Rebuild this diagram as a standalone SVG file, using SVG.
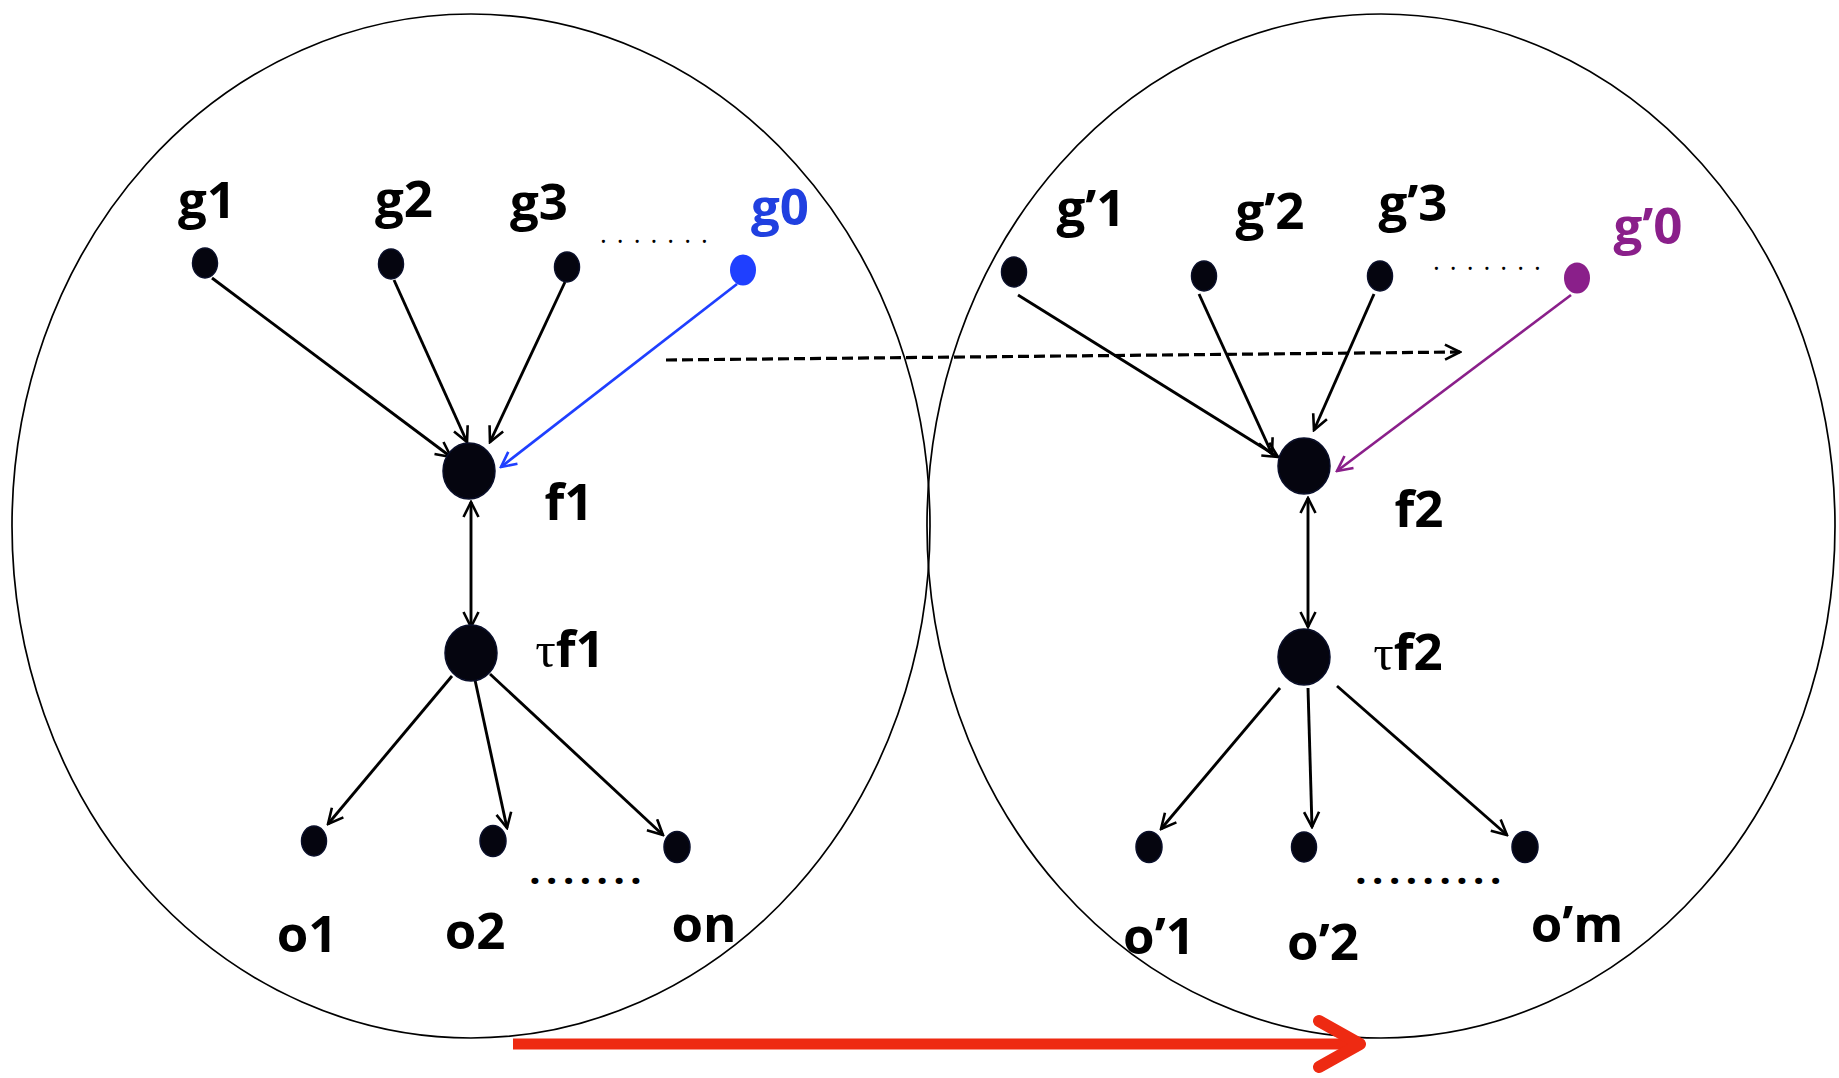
<svg xmlns="http://www.w3.org/2000/svg" width="1839" height="1078" viewBox="0 0 1839 1078">
<defs>
<style>
.lbl{font-family:"Open Sans","Noto Sans",sans-serif;font-weight:700;font-size:51px;fill:#000;text-anchor:middle}
.tau{font-family:"Liberation Serif",serif;font-weight:400}
.dots{font-family:"Open Sans",sans-serif;font-size:26px;fill:#000;letter-spacing:10px}
.bdots{font-family:"Open Sans",sans-serif;font-weight:800;font-size:34px;fill:#000;letter-spacing:7px}
.ell{fill:none;stroke:#000;stroke-width:1.7}
.dot{fill:#05050f;stroke:#0a0f2a;stroke-width:1.5}
.big{fill:#05050f;stroke:#0a0f2a;stroke-width:1.5}
.ar{fill:none;stroke:#000;stroke-width:2.9}
</style>
<marker id="ah" viewBox="0 0 18 18" refX="16" refY="9" markerWidth="18" markerHeight="18" markerUnits="userSpaceOnUse" orient="auto-start-reverse">
<path d="M1,1.5 L16,9 L1,16.5" fill="none" stroke="#000" stroke-width="2.6"/>
</marker>
<marker id="ahb" viewBox="0 0 18 18" refX="16" refY="9" markerWidth="18" markerHeight="18" markerUnits="userSpaceOnUse" orient="auto">
<path d="M1,1.5 L16,9 L1,16.5" fill="none" stroke="#1f3fff" stroke-width="2.6"/>
</marker>
<marker id="ahp" viewBox="0 0 18 18" refX="16" refY="9" markerWidth="18" markerHeight="18" markerUnits="userSpaceOnUse" orient="auto">
<path d="M1,1.5 L16,9 L1,16.5" fill="none" stroke="#8a1f8a" stroke-width="2.6"/>
</marker>
<marker id="ahr" viewBox="0 0 60 60" refX="52" refY="30" markerWidth="60" markerHeight="60" markerUnits="userSpaceOnUse" orient="auto">
<path d="M9,7 L50,30 L9,53" fill="none" stroke="#ee2a12" stroke-width="12" stroke-linecap="round" stroke-linejoin="round"/>
</marker>
</defs>
<rect width="1839" height="1078" fill="#fff"/>

<g id="container-left"><ellipse class="ell" cx="471" cy="526" rx="459" ry="512"/></g>
<g id="container-right"><ellipse class="ell" cx="1381" cy="526" rx="454" ry="512"/></g>

<g id="connectors">
<line class="ar" x1="212" y1="278" x2="451" y2="457" marker-end="url(#ah)"/>
<line class="ar" x1="394" y1="280" x2="467" y2="442" marker-end="url(#ah)"/>
<line class="ar" x1="565" y1="282" x2="490" y2="442" marker-end="url(#ah)"/>
<line x1="737" y1="284" x2="501" y2="467" fill="none" stroke="#1f3fff" stroke-width="2.8" marker-end="url(#ahb)"/>
<line class="ar" x1="471" y1="502" x2="471" y2="627" marker-start="url(#ah)" marker-end="url(#ah)"/>
<line class="ar" x1="452" y1="676" x2="328" y2="824" marker-end="url(#ah)"/>
<line class="ar" x1="475" y1="680" x2="507" y2="828" marker-end="url(#ah)"/>
<line class="ar" x1="490" y1="674" x2="663" y2="835" marker-end="url(#ah)"/>

<line class="ar" x1="1018" y1="295" x2="1278" y2="457" marker-end="url(#ah)"/>
<line class="ar" x1="1199" y1="294" x2="1272" y2="454" marker-end="url(#ah)"/>
<line class="ar" x1="1374" y1="294" x2="1314" y2="430" marker-end="url(#ah)"/>
<line x1="1571" y1="295" x2="1337" y2="471" fill="none" stroke="#8a1f8a" stroke-width="2.6" marker-end="url(#ahp)"/>
<line class="ar" x1="1308" y1="498" x2="1308" y2="627" marker-start="url(#ah)" marker-end="url(#ah)"/>
<line class="ar" x1="1280" y1="688" x2="1161" y2="829" marker-end="url(#ah)"/>
<line class="ar" x1="1308" y1="688" x2="1312" y2="827" marker-end="url(#ah)"/>
<line class="ar" x1="1337" y1="686" x2="1507" y2="835" marker-end="url(#ah)"/>

<line x1="666" y1="360" x2="1460" y2="352" fill="none" stroke="#000" stroke-width="3.2" stroke-dasharray="11 5" marker-end="url(#ah)"/>
<line x1="513" y1="1044" x2="1362" y2="1044" fill="none" stroke="#ee2a12" stroke-width="11" marker-end="url(#ahr)"/>
</g>

<g id="node-g1"><ellipse class="dot" cx="205" cy="263" rx="12.5" ry="15"/><text class="lbl" x="207" y="218">g1</text></g>
<g id="node-g2"><ellipse class="dot" cx="391" cy="264" rx="12.5" ry="15"/><text class="lbl" x="404" y="217">g2</text></g>
<g id="node-g3"><ellipse class="dot" cx="567" cy="267" rx="12.5" ry="15"/><text class="lbl" x="539" y="220">g3</text></g>
<g id="dots-g-left"><text class="dots" x="600" y="243">.......</text></g>
<g id="node-g0"><ellipse cx="743" cy="270" rx="13" ry="15.5" fill="#1f3fff"/><text class="lbl" x="780" y="225" style="fill:#2040e0">g0</text></g>
<g id="node-f1"><ellipse class="big" cx="469" cy="471" rx="26" ry="28"/><text class="lbl" x="569" y="520">f1</text></g>
<g id="node-tf1"><ellipse class="big" cx="471" cy="653" rx="26" ry="28"/><text class="lbl" x="570" y="667"><tspan class="tau">τ</tspan>f1</text></g>
<g id="node-o1"><ellipse class="dot" cx="314" cy="841" rx="12.5" ry="15"/><text class="lbl" x="307" y="952">o1</text></g>
<g id="node-o2"><ellipse class="dot" cx="493" cy="841" rx="13" ry="15.5"/><text class="lbl" x="475" y="949">o2</text></g>
<g id="node-on"><ellipse class="dot" cx="677" cy="847" rx="13" ry="15.5"/><text class="lbl" x="704" y="942">on</text></g>
<g id="dots-o-left"><text class="bdots" x="530" y="884">.......</text></g>

<g id="node-gp1"><ellipse class="dot" cx="1014" cy="272" rx="12.5" ry="15"/><text class="lbl" x="1091" y="226">g’1</text></g>
<g id="node-gp2"><ellipse class="dot" cx="1204" cy="276" rx="12.5" ry="15"/><text class="lbl" x="1270" y="229">g’2</text></g>
<g id="node-gp3"><ellipse class="dot" cx="1380" cy="276" rx="12.5" ry="15"/><text class="lbl" x="1413" y="221">g’3</text></g>
<g id="dots-g-right"><text class="dots" x="1433" y="270">.......</text></g>
<g id="node-gp0"><ellipse cx="1577" cy="278" rx="13" ry="15.5" fill="#8a1f8a"/><text class="lbl" x="1648" y="244" style="fill:#8a1f8a">g’0</text></g>
<g id="node-f2"><ellipse class="big" cx="1304" cy="466" rx="26" ry="28"/><text class="lbl" x="1419" y="527">f2</text></g>
<g id="node-tf2"><ellipse class="big" cx="1304" cy="657" rx="26" ry="28"/><text class="lbl" x="1408" y="670"><tspan class="tau">τ</tspan>f2</text></g>
<g id="node-op1"><ellipse class="dot" cx="1149" cy="847" rx="13" ry="15.5"/><text class="lbl" x="1159" y="954">o’1</text></g>
<g id="node-op2"><ellipse class="dot" cx="1304" cy="847" rx="12.5" ry="15"/><text class="lbl" x="1323" y="960">o’2</text></g>
<g id="node-opm"><ellipse class="dot" cx="1525" cy="847" rx="13" ry="15.5"/><text class="lbl" x="1577" y="942">o’m</text></g>
<g id="dots-o-right"><text class="bdots" x="1356" y="884">.........</text></g>
</svg>
